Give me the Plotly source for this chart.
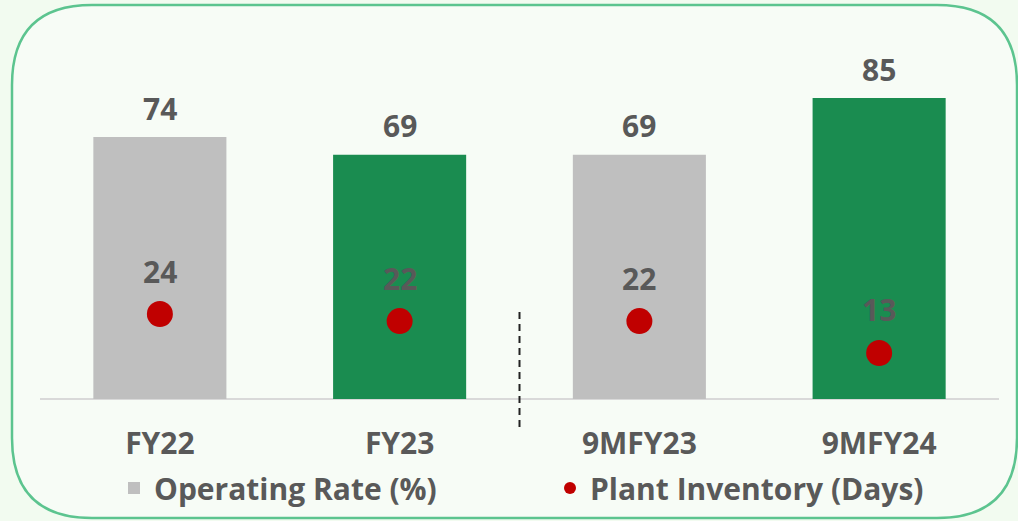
import plotly.graph_objects as go

categories = ["FY22", "FY23", "9MFY23", "9MFY24"]
operating_rate = [74, 69, 69, 85]
plant_inventory = [24, 22, 22, 13]
bar_colors = ["#bfbfbf", "#1a8c50", "#bfbfbf", "#1a8c50"]

W, H = 1018, 521
ML, MR, MT, MB = 40, 19, 45, 122
PW, PH = W - ML - MR, H - MT - MB

def px(x):
    return (x - ML) / PW

def py(y):
    return (H - MB - y) / PH

FONT = "Open Sans"
TXT = "#595959"
FS = 30

fig = go.Figure()
fig.add_trace(go.Bar(
    x=categories, y=operating_rate, name="Operating Rate (%)",
    marker=dict(color=bar_colors, line=dict(width=0)),
    showlegend=True,
))
fig.add_trace(go.Scatter(
    x=categories, y=plant_inventory, name="Plant Inventory (Days)",
    mode="markers", marker=dict(color="#c00000", size=26),
))

annotations = []
for c, v in zip(categories, operating_rate):
    annotations.append(dict(x=c, y=v, text=str(v), showarrow=False, yshift=29,
                            font=dict(family=FONT, size=FS, color=TXT, weight="bold")))
for c, v in zip(categories, plant_inventory):
    annotations.append(dict(x=c, y=v, text=str(v), showarrow=False, yshift=43,
                            font=dict(family=FONT, size=FS, color=TXT, weight="bold")))

# rounded border
x0, y0, x1, y1 = px(12), py(5), px(1017), py(518)
rx = 80 / PW
ry = 80 / PH
path = (f"M {x0+rx},{y0} L {x1-rx},{y0} Q {x1},{y0} {x1},{y0-ry} "
        f"L {x1},{y1+ry} Q {x1},{y1} {x1-rx},{y1} L {x0+rx},{y1} "
        f"Q {x0},{y1} {x0},{y1+ry} L {x0},{y0-ry} Q {x0},{y0} {x0+rx},{y0} Z")

shapes = [
    dict(type="path", xref="paper", yref="paper", path=path,
         line=dict(color="#5cc48f", width=2.5), fillcolor="#f7fcf6", layer="below"),
    dict(type="line", xref="paper", yref="paper", x0=px(40), x1=px(999), y0=0, y1=0,
         line=dict(color="#d9d9d9", width=2), layer="below"),
    dict(type="line", xref="paper", yref="paper", x0=0.5, x1=0.5, y0=py(312), y1=py(430),
         line=dict(color="#222222", width=2, dash="7px,5px")),
]

fig.update_layout(
    width=W, height=H,
    margin=dict(l=ML, r=MR, t=MT, b=MB, autoexpand=False),
    paper_bgcolor="#f2fbf0",
    plot_bgcolor="rgba(0,0,0,0)",
    bargap=0.445,
    showlegend=True,
    legend=dict(orientation="h", x=px(114), xanchor="left", y=py(488), yanchor="middle",
                entrywidth=391, entrywidthmode="pixels", itemsizing="constant",
                font=dict(family=FONT, size=FS, color=TXT, weight="bold"),
                bgcolor="rgba(0,0,0,0)"),
    xaxis=dict(range=[-0.5, 3.5], showgrid=False, showline=False, zeroline=False,
               ticks="", tickfont=dict(family=FONT, size=FS, color=TXT, weight="bold"),
               ticklabelstandoff=24),
    yaxis=dict(range=[0, 100], visible=False, showgrid=False, zeroline=False),
    annotations=annotations,
    shapes=shapes,
)

fig.write_html("out.html", config={"displayModeBar": False},
               post_script="document.body.style.margin='0';document.body.style.overflow='hidden';")
